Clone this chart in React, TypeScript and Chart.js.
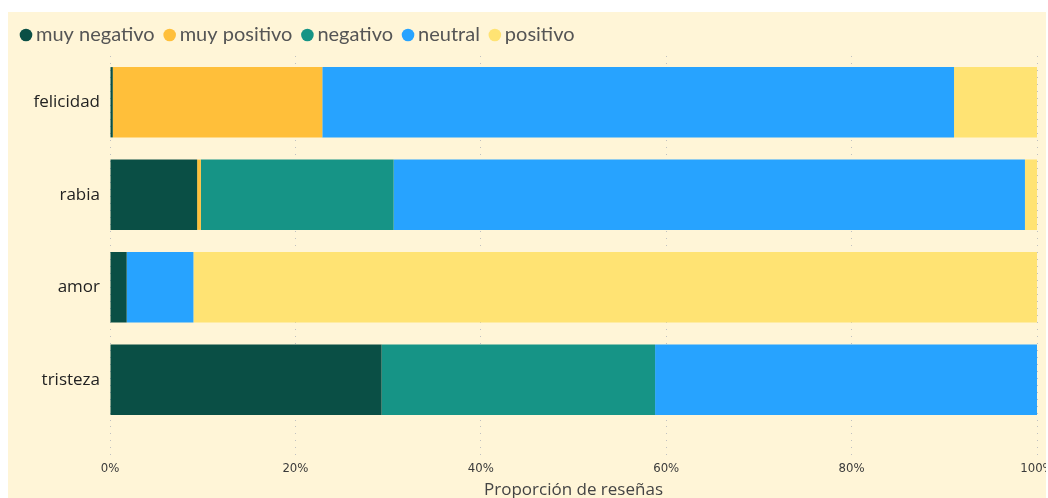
import { useEffect, useRef } from "react";
import { Chart, registerables } from "chart.js";

Chart.register(...registerables);

const categories = ["felicidad", "rabia", "amor", "tristeza"];
const seriesNames = ["muy negativo", "muy positivo", "negativo", "neutral", "positivo"];
const muyNegativo = [0.3, 9.4, 1.8, 29.3];
const muyPositivo = [22.6, 0.4, 0, 0];
const negativo = [0, 20.8, 0, 29.5];
const neutral = [68.15, 68.1, 7.2, 41.2];
const positivo = [8.95, 1.3, 91.0, 0];
const xTickValues = [0, 20, 40, 60, 80, 100];
const axisTitle = "Proporción de reseñas";
const colors = ["#0A4F45", "#FFBF3A", "#169486", "#27A3FF", "#FFE373"];

const dotLegend = {
  id: "dotLegend",
  afterDraw(chart: any) {
    const ctx = chart.ctx;
    ctx.save();
    ctx.font = "20px Lato";
    ctx.textBaseline = "middle";
    ctx.textAlign = "left";
    let x = 18;
    const y = 23;
    chart.data.datasets.forEach((ds: any) => {
      ctx.beginPath();
      ctx.arc(x, y, 6.3, 0, Math.PI * 2);
      ctx.fillStyle = ds.backgroundColor;
      ctx.fill();
      ctx.fillStyle = "#555555";
      const tx = x + 10;
      ctx.fillText(ds.label, tx, y);
      x = tx + ctx.measureText(ds.label).width + 15;
    });
    ctx.restore();
  },
};

export default function App() {
  const ref = useRef<HTMLCanvasElement | null>(null);

  useEffect(() => {
    if (!ref.current) return;
    const seriesData = [muyNegativo, muyPositivo, negativo, neutral, positivo];
    const chart = new Chart(ref.current, {
      type: "bar",
      data: {
        labels: categories,
        datasets: seriesNames.map((name, i) => ({
          label: name,
          data: seriesData[i],
          backgroundColor: colors[i],
          borderWidth: 0,
          barPercentage: 0.76,
          categoryPercentage: 1,
        })),
      },
      plugins: [dotLegend],
      options: {
        indexAxis: "y",
        responsive: false,
        animation: false,
        devicePixelRatio: 1,
        layout: { padding: { top: 44, right: 9, left: 2, bottom: 0 } },
        plugins: {
          legend: { display: false },
          tooltip: { enabled: false },
        },
        scales: {
          x: {
            stacked: true,
            min: 0,
            max: 100,
            afterBuildTicks: (scale: any) => {
              scale.ticks = xTickValues.map((v) => ({ value: v }));
            },
            afterFit: (scale: any) => {
              scale.height = 72;
              scale.paddingLeft = 0;
              scale.paddingRight = 0;
            },
            ticks: {
              callback: (v: any) => v + "%",
              color: "#3a3a3a",
              font: { family: "DejaVu Sans Condensed", size: 13 },
              padding: 6,
              maxRotation: 0,
            },
            grid: {
              color: "#c0c0c0",
              lineWidth: 1,
              drawTicks: true,
              tickLength: 29,
              tickColor: "#c0c0c0",
              tickBorderDash: [1, 6],
            },
            border: { display: false, dash: [1, 6] },
            title: {
              display: true,
              text: axisTitle,
              color: "#444444",
              font: { family: "Open Sans", size: 17 },
              padding: { top: 0, bottom: -2 },
            },
          },
          y: {
            stacked: true,
            afterFit: (scale: any) => {
              scale.width = 100;
            },
            ticks: {
              color: "#222222",
              font: { family: "Open Sans", size: 17 },
              padding: 10,
            },
            grid: { display: false, drawTicks: false },
            border: { display: false },
          },
        },
      },
    });
    return () => chart.destroy();
  }, []);

  return (
    <div
      style={{
        position: "fixed",
        left: 8,
        top: 12,
        width: 1038,
        height: 486,
        background: "#FFF5D7",
      }}
    >
      <canvas ref={ref} width={1038} height={486} style={{ display: "block" }} />
    </div>
  );
}
